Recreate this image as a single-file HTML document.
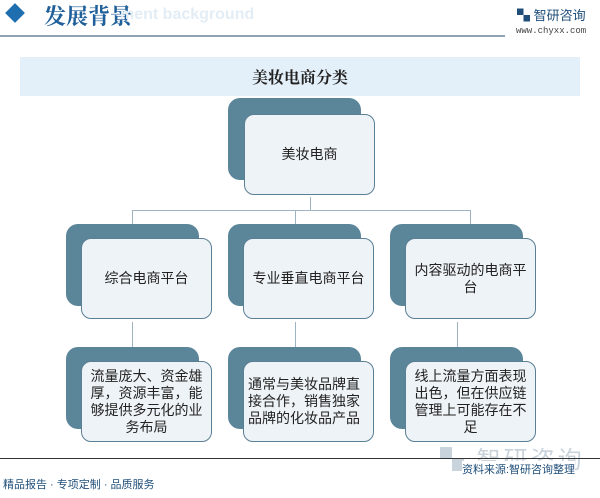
<!DOCTYPE html>
<html><head><meta charset="utf-8"><style>
body{margin:0;width:600px;height:498px;background:#fff;position:relative;overflow:hidden;font-family:"Liberation Sans","Noto Sans CJK SC",sans-serif}
.a{position:absolute;white-space:nowrap}
.bk{position:absolute;background:#5b8599;border-radius:12px;width:133px;height:82px}
.fr{position:absolute;background:#eef3f7;border:1.5px solid #5b7f95;border-radius:10px;width:131px;height:81px;display:flex;align-items:center;justify-content:center;text-align:center;font-size:14px;color:#222;line-height:17px;box-sizing:border-box;padding:0 4px}
.ln{position:absolute;background:#9fb3c0}
</style></head><body>
<div class="a" style="left:8px;top:6px;width:14px;height:14px;background:#1f6fb0;transform:rotate(45deg)"></div>
<div class="a" style="left:44px;top:0px;font-size:22px;font-weight:bold;color:#1f5f9a;font-family:'Noto Serif CJK SC',serif;line-height:32px">发展背景</div>
<div class="a" style="left:120px;top:6px;font-size:16px;font-weight:bold;color:#e3edf5">ment background</div>
<div class="a" style="left:0;top:35px;width:505px;height:2px;background:#8fa5b6"></div>
<div class="a" style="left:517px;top:5px;font-size:13px;color:#1f4e79">▚ 智研咨询</div>
<div class="a" style="left:516px;top:26px;font-size:9px;color:#444;font-family:'Liberation Mono',monospace">www.chyxx.com</div>
<div class="a" style="left:20px;top:57px;width:560px;height:39px;background:#e4f0f9;text-align:center;line-height:39px;font-size:16px;font-weight:bold;color:#222;font-family:'Noto Serif CJK SC',serif">美妆电商分类</div>

<div class="ln" style="left:310px;top:197px;width:1px;height:13px"></div>
<div class="ln" style="left:132px;top:210px;width:339px;height:1px"></div>
<div class="ln" style="left:132px;top:210px;width:1px;height:15px"></div>
<div class="ln" style="left:295px;top:210px;width:1px;height:15px"></div>
<div class="ln" style="left:470px;top:210px;width:1px;height:15px"></div>
<div class="ln" style="left:132px;top:322px;width:1px;height:25px"></div>
<div class="ln" style="left:295px;top:322px;width:1px;height:25px"></div>
<div class="ln" style="left:457px;top:322px;width:1px;height:25px"></div>

<div class="bk" style="left:228px;top:98px"></div>
<div class="fr" style="left:244px;top:114px">美妆电商</div>

<div class="bk" style="left:66px;top:224px"></div>
<div class="fr" style="left:81px;top:238px">综合电商平台</div>
<div class="bk" style="left:228px;top:224px"></div>
<div class="fr" style="left:243px;top:238px">专业垂直电商平台</div>
<div class="bk" style="left:390px;top:224px"></div>
<div class="fr" style="left:405px;top:238px">内容驱动的电商平台</div>

<div class="bk" style="left:66px;top:347px"></div>
<div class="fr" style="left:81px;top:361px">流量庞大、资金雄厚，资源丰富，能够提供多元化的业务布局</div>
<div class="bk" style="left:228px;top:347px"></div>
<div class="fr" style="left:243px;top:361px;text-align:left">通常与美妆品牌直接合作，销售独家品牌的化妆品产品</div>
<div class="bk" style="left:390px;top:347px"></div>
<div class="fr" style="left:405px;top:361px">线上流量方面表现出色，但在供应链管理上可能存在不足</div>

<div class="a" style="left:440px;top:440px;font-size:24px;color:#c9d3dc;letter-spacing:3px">▚ 智研咨询</div>
<div class="a" style="left:0;top:458px;width:600px;height:1px;background:#333"></div>
<div class="a" style="left:462px;top:461px;font-size:11px;color:#1f4e79;background:#fff">资料来源:智研咨询整理</div>
<div class="a" style="left:3px;top:476px;font-size:11px;color:#1f4e79">精品报告 · 专项定制 · 品质服务</div>
</body></html>
